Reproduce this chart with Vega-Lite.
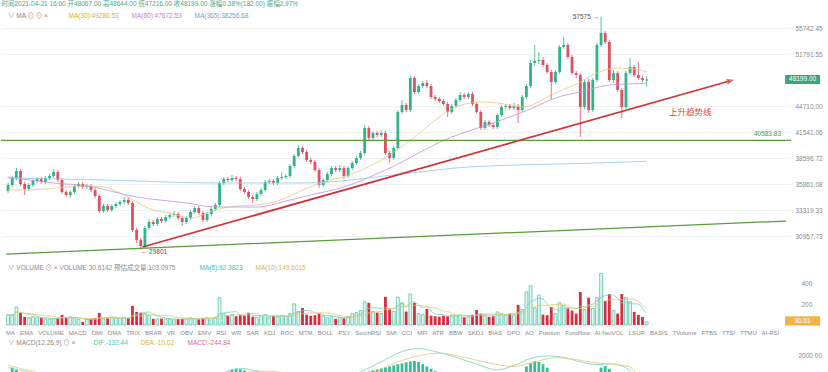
{
"$schema": "https://vega.github.io/schema/vega-lite/v6.json",
"padding": 0,
"background": "#ffffff",
"spacing": 3,
"config": {
  "view": {"stroke": null},
  "font": "Liberation Sans, Noto Sans CJK SC",
  "title": {"fontSize": 6.5, "fontWeight": "normal", "anchor": "start", "font": "Liberation Sans, Noto Sans CJK SC"},
  "axis": {"labelFontSize": 6.5, "labelColor": "#8a8a8a", "domain": false, "ticks": false, "gridColor": "#f1f1f1", "labelFont": "Liberation Sans"},
  "legend": {"orient": "none", "direction": "horizontal", "titleOrient": "left", "titleFontSize": 6.5, "titleColor": "#8a8a8a", "titleFontWeight": "normal", "titlePadding": 6, "labelFontSize": 6.5, "symbolSize": 0, "symbolOpacity": 0, "symbolStrokeWidth": 0, "labelOffset": 0, "columnPadding": 6, "padding": 0, "titleFont": "Liberation Sans, Noto Sans CJK SC", "labelFont": "Liberation Sans"}
},
"datasets": {
  "k": [
{"i":0,"o":35175,"h":35979,"l":34977,"c":35776,"v":100},
{"i":1,"o":35776,"h":36697,"l":35575,"c":36490,"v":95},
{"i":2,"o":36490,"h":37536,"l":36285,"c":37219,"v":175},
{"i":3,"o":37219,"h":37430,"l":35675,"c":35877,"v":117},
{"i":4,"o":35877,"h":36081,"l":34780,"c":35374,"v":78},
{"i":5,"o":35374,"h":35979,"l":35175,"c":35776,"v":70},
{"i":6,"o":35776,"h":36388,"l":35575,"c":36183,"v":80},
{"i":7,"o":36183,"h":36593,"l":35979,"c":36388,"v":70},
{"i":8,"o":36388,"h":36593,"l":35877,"c":36081,"v":68},
{"i":9,"o":36081,"h":36697,"l":35877,"c":36490,"v":60},
{"i":10,"o":36490,"h":36905,"l":36285,"c":36697,"v":58},
{"i":11,"o":36697,"h":37430,"l":36490,"c":37114,"v":62},
{"i":12,"o":37114,"h":37324,"l":36081,"c":36285,"v":65},
{"i":13,"o":36285,"h":36490,"l":34878,"c":35076,"v":98},
{"i":14,"o":35076,"h":35275,"l":34584,"c":34780,"v":70},
{"i":15,"o":34780,"h":35275,"l":34486,"c":35076,"v":78},
{"i":16,"o":35076,"h":35877,"l":34878,"c":35675,"v":65},
{"i":17,"o":35675,"h":36081,"l":35474,"c":35877,"v":55},
{"i":18,"o":35877,"h":36081,"l":35374,"c":35575,"v":30},
{"i":19,"o":35575,"h":35877,"l":35374,"c":35675,"v":55},
{"i":20,"o":35675,"h":35877,"l":35076,"c":35275,"v":60},
{"i":21,"o":35275,"h":35474,"l":34486,"c":34682,"v":68},
{"i":22,"o":34682,"h":34878,"l":33054,"c":33242,"v":117},
{"i":23,"o":33242,"h":33906,"l":33054,"c":33714,"v":60},
{"i":24,"o":33714,"h":33906,"l":33148,"c":33336,"v":65},
{"i":25,"o":33336,"h":33906,"l":33148,"c":33714,"v":70},
{"i":26,"o":33714,"h":34099,"l":33524,"c":33906,"v":68},
{"i":27,"o":33906,"h":34292,"l":33714,"c":34099,"v":65},
{"i":28,"o":34099,"h":34584,"l":33906,"c":34292,"v":70},
{"i":29,"o":34292,"h":34486,"l":33810,"c":34003,"v":65},
{"i":30,"o":34003,"h":34195,"l":31327,"c":31505,"v":185},
{"i":31,"o":31505,"h":31683,"l":30369,"c":30627,"v":127},
{"i":32,"o":30627,"h":30801,"l":29801,"c":30113,"v":120},
{"i":33,"o":30113,"h":31863,"l":29943,"c":31683,"v":110},
{"i":34,"o":31683,"h":32499,"l":31505,"c":32225,"v":95},
{"i":35,"o":32225,"h":32408,"l":31863,"c":32043,"v":60},
{"i":36,"o":32043,"h":32683,"l":31863,"c":32499,"v":58},
{"i":37,"o":32499,"h":32683,"l":32134,"c":32316,"v":62},
{"i":38,"o":32316,"h":32868,"l":32134,"c":32683,"v":55},
{"i":39,"o":32683,"h":33054,"l":32499,"c":32868,"v":60},
{"i":40,"o":32868,"h":33242,"l":32683,"c":32961,"v":50},
{"i":41,"o":32961,"h":33148,"l":32408,"c":32591,"v":58},
{"i":42,"o":32591,"h":32775,"l":31863,"c":32225,"v":60},
{"i":43,"o":32225,"h":32775,"l":32043,"c":32591,"v":65},
{"i":44,"o":32591,"h":33336,"l":32408,"c":33148,"v":70},
{"i":45,"o":33148,"h":33714,"l":32961,"c":33524,"v":62},
{"i":46,"o":33524,"h":33714,"l":32868,"c":33054,"v":55},
{"i":47,"o":33054,"h":33242,"l":32225,"c":32408,"v":68},
{"i":48,"o":32408,"h":33148,"l":32225,"c":32961,"v":70},
{"i":49,"o":32961,"h":33619,"l":32775,"c":33430,"v":65},
{"i":50,"o":33430,"h":34003,"l":33242,"c":33810,"v":75},
{"i":51,"o":33810,"h":36183,"l":33619,"c":35979,"v":265},
{"i":52,"o":35979,"h":36593,"l":35776,"c":36388,"v":110},
{"i":53,"o":36388,"h":36593,"l":36081,"c":36285,"v":90},
{"i":54,"o":36285,"h":36801,"l":36081,"c":36490,"v":100},
{"i":55,"o":36490,"h":36697,"l":36183,"c":36388,"v":85},
{"i":56,"o":36388,"h":36593,"l":35175,"c":35374,"v":95},
{"i":57,"o":35374,"h":35575,"l":34878,"c":35076,"v":90},
{"i":58,"o":35076,"h":35275,"l":34389,"c":34584,"v":118},
{"i":59,"o":34584,"h":34780,"l":34003,"c":34389,"v":80},
{"i":60,"o":34389,"h":35076,"l":34195,"c":34878,"v":75},
{"i":61,"o":34878,"h":35474,"l":34682,"c":35275,"v":90},
{"i":62,"o":35275,"h":36285,"l":35076,"c":36081,"v":100},
{"i":63,"o":36081,"h":36388,"l":35877,"c":36183,"v":70},
{"i":64,"o":36183,"h":36388,"l":35776,"c":35979,"v":90},
{"i":65,"o":35979,"h":36697,"l":35776,"c":36490,"v":80},
{"i":66,"o":36490,"h":37114,"l":36285,"c":36593,"v":95},
{"i":67,"o":36593,"h":36905,"l":36388,"c":36697,"v":85},
{"i":68,"o":36697,"h":37962,"l":36490,"c":37748,"v":110},
{"i":69,"o":37748,"h":39050,"l":37536,"c":38829,"v":205},
{"i":70,"o":38829,"h":40055,"l":38611,"c":39717,"v":130},
{"i":71,"o":39717,"h":39940,"l":39050,"c":39271,"v":165},
{"i":72,"o":39271,"h":39494,"l":38177,"c":38394,"v":100},
{"i":73,"o":38394,"h":38611,"l":37962,"c":38177,"v":90},
{"i":74,"o":38177,"h":38394,"l":37114,"c":37324,"v":95},
{"i":75,"o":37324,"h":37536,"l":35474,"c":35776,"v":110},
{"i":76,"o":35776,"h":36490,"l":35575,"c":36285,"v":90},
{"i":77,"o":36285,"h":37114,"l":36081,"c":36905,"v":70},
{"i":78,"o":36905,"h":37748,"l":36697,"c":37536,"v":80},
{"i":79,"o":37536,"h":37748,"l":37114,"c":37324,"v":60},
{"i":80,"o":37324,"h":37855,"l":37114,"c":37536,"v":70},
{"i":81,"o":37536,"h":37748,"l":36388,"c":36697,"v":65},
{"i":82,"o":36697,"h":37748,"l":36490,"c":37536,"v":80},
{"i":83,"o":37536,"h":38285,"l":37324,"c":38069,"v":110},
{"i":84,"o":38069,"h":38829,"l":37855,"c":38611,"v":120},
{"i":85,"o":38611,"h":39383,"l":38394,"c":39160,"v":140},
{"i":86,"o":39160,"h":42383,"l":38939,"c":42025,"v":225},
{"i":87,"o":42025,"h":42263,"l":40623,"c":40853,"v":215},
{"i":88,"o":40853,"h":41670,"l":40623,"c":41435,"v":130},
{"i":89,"o":41435,"h":41670,"l":40969,"c":41201,"v":120},
{"i":90,"o":41201,"h":41788,"l":40969,"c":41435,"v":110},
{"i":91,"o":41435,"h":41670,"l":38939,"c":39160,"v":273},
{"i":92,"o":39160,"h":39383,"l":38069,"c":38611,"v":150},
{"i":93,"o":38611,"h":39940,"l":38394,"c":39717,"v":130},
{"i":94,"o":39717,"h":44218,"l":39494,"c":43969,"v":270},
{"i":95,"o":43969,"h":45484,"l":43721,"c":44846,"v":215},
{"i":96,"o":44846,"h":45100,"l":43969,"c":44218,"v":130},
{"i":97,"o":44218,"h":48813,"l":43969,"c":48401,"v":300},
{"i":98,"o":48401,"h":48675,"l":46262,"c":46524,"v":215},
{"i":99,"o":46524,"h":47587,"l":46262,"c":47319,"v":110},
{"i":100,"o":47319,"h":47992,"l":47053,"c":47722,"v":100},
{"i":101,"o":47722,"h":48128,"l":47053,"c":47319,"v":155},
{"i":102,"o":47319,"h":47587,"l":45613,"c":45871,"v":90},
{"i":103,"o":45871,"h":46131,"l":45356,"c":45613,"v":85},
{"i":104,"o":45613,"h":45871,"l":45100,"c":45356,"v":80},
{"i":105,"o":45356,"h":45613,"l":44720,"c":44973,"v":90},
{"i":106,"o":44973,"h":45228,"l":43352,"c":43969,"v":85},
{"i":107,"o":43969,"h":44973,"l":43721,"c":44720,"v":95},
{"i":108,"o":44720,"h":45742,"l":44468,"c":45484,"v":90},
{"i":109,"o":45484,"h":46524,"l":45228,"c":46131,"v":95},
{"i":110,"o":46131,"h":46393,"l":45613,"c":45871,"v":75},
{"i":111,"o":45871,"h":46524,"l":45613,"c":46262,"v":85},
{"i":112,"o":46262,"h":46524,"l":44720,"c":44973,"v":100},
{"i":113,"o":44973,"h":45228,"l":43721,"c":43969,"v":145},
{"i":114,"o":43969,"h":44218,"l":41788,"c":42025,"v":110},
{"i":115,"o":42025,"h":42986,"l":41788,"c":42744,"v":90},
{"i":116,"o":42744,"h":42986,"l":42144,"c":42383,"v":80},
{"i":117,"o":42383,"h":42623,"l":41906,"c":42144,"v":85},
{"i":118,"o":42144,"h":43845,"l":41906,"c":43598,"v":127},
{"i":119,"o":43598,"h":44846,"l":43352,"c":44594,"v":110},
{"i":120,"o":44594,"h":44973,"l":44343,"c":44720,"v":95},
{"i":121,"o":44720,"h":44973,"l":44218,"c":44468,"v":110},
{"i":122,"o":44468,"h":45100,"l":44218,"c":44720,"v":100},
{"i":123,"o":44720,"h":44973,"l":42623,"c":44218,"v":195},
{"i":124,"o":44218,"h":46131,"l":43969,"c":45871,"v":150},
{"i":125,"o":45871,"h":47587,"l":45613,"c":47319,"v":320},
{"i":126,"o":47319,"h":50925,"l":47053,"c":50495,"v":380},
{"i":127,"o":50495,"h":53129,"l":50069,"c":50781,"v":165},
{"i":128,"o":50781,"h":52089,"l":50353,"c":50925,"v":290},
{"i":129,"o":50925,"h":51358,"l":49928,"c":50211,"v":100},
{"i":130,"o":50211,"h":50495,"l":48951,"c":49228,"v":95},
{"i":131,"o":49228,"h":49507,"l":45484,"c":47857,"v":175},
{"i":132,"o":47857,"h":49507,"l":47587,"c":49228,"v":110},
{"i":133,"o":49228,"h":53129,"l":48951,"c":52830,"v":215},
{"i":134,"o":52830,"h":54343,"l":52532,"c":53129,"v":190},
{"i":135,"o":53129,"h":53430,"l":51069,"c":51358,"v":160},
{"i":136,"o":51358,"h":51649,"l":48813,"c":49089,"v":140},
{"i":137,"o":49089,"h":49367,"l":48401,"c":48813,"v":110},
{"i":138,"o":48813,"h":49089,"l":40969,"c":44594,"v":320},
{"i":139,"o":44594,"h":48128,"l":44343,"c":47857,"v":150},
{"i":140,"o":47857,"h":48264,"l":43845,"c":44218,"v":265},
{"i":141,"o":44218,"h":48401,"l":43969,"c":48128,"v":160},
{"i":142,"o":48128,"h":53430,"l":47857,"c":53129,"v":265},
{"i":143,"o":53129,"h":57575,"l":52830,"c":54961,"v":500},
{"i":144,"o":54961,"h":55272,"l":53279,"c":53581,"v":235},
{"i":145,"o":53581,"h":53885,"l":47857,"c":48128,"v":300},
{"i":146,"o":48128,"h":49507,"l":47722,"c":49089,"v":140},
{"i":147,"o":49089,"h":49367,"l":46524,"c":46788,"v":110},
{"i":148,"o":46788,"h":47053,"l":43230,"c":44594,"v":300},
{"i":149,"o":44594,"h":49367,"l":44343,"c":49089,"v":265},
{"i":150,"o":49089,"h":51213,"l":48813,"c":49928,"v":225},
{"i":151,"o":49928,"h":50211,"l":48538,"c":48813,"v":127},
{"i":152,"o":48813,"h":50638,"l":48128,"c":48401,"v":98},
{"i":153,"o":48401,"h":48675,"l":47857,"c":48128,"v":78},
{"i":154,"o":48067,"h":48644,"l":47216,"c":48199,"v":30.6142}
  ],
  "ma": [
{"ma":"MA30","i":0,"p":35275},{"ma":"MA30","i":4,"p":35275},{"ma":"MA30","i":12,"p":35474},{"ma":"MA30","i":18,"p":35675},{"ma":"MA30","i":23,"p":35575},{"ma":"MA30","i":28,"p":34780},{"ma":"MA30","i":35,"p":33336},{"ma":"MA30","i":39,"p":33054},{"ma":"MA30","i":44,"p":32591},{"ma":"MA30","i":50,"p":33336},{"ma":"MA30","i":55,"p":33714},{"ma":"MA30","i":60,"p":33810},{"ma":"MA30","i":67,"p":34486},{"ma":"MA30","i":71,"p":35275},{"ma":"MA30","i":78,"p":36285},{"ma":"MA30","i":83,"p":36905},{"ma":"MA30","i":90,"p":38394},{"ma":"MA30","i":98,"p":40969},{"ma":"MA30","i":104,"p":43352},{"ma":"MA30","i":108,"p":44594},{"ma":"MA30","i":114,"p":45228},{"ma":"MA30","i":118,"p":45100},{"ma":"MA30","i":124,"p":44594},{"ma":"MA30","i":132,"p":46393},{"ma":"MA30","i":138,"p":47857},{"ma":"MA30","i":141,"p":48813},{"ma":"MA30","i":147,"p":49787},{"ma":"MA30","i":151,"p":49647},{"ma":"MA30","i":154,"p":49280.53},
{"ma":"MA60","i":0,"p":36593},{"ma":"MA60","i":11,"p":35979},{"ma":"MA60","i":19,"p":35675},{"ma":"MA60","i":31,"p":34584},{"ma":"MA60","i":43,"p":34003},{"ma":"MA60","i":50,"p":33619},{"ma":"MA60","i":60,"p":33619},{"ma":"MA60","i":68,"p":34292},{"ma":"MA60","i":74,"p":34878},{"ma":"MA60","i":81,"p":35575},{"ma":"MA60","i":91,"p":37324},{"ma":"MA60","i":107,"p":40969},{"ma":"MA60","i":117,"p":42623},{"ma":"MA60","i":126,"p":44343},{"ma":"MA60","i":132,"p":45742},{"ma":"MA60","i":139,"p":46656},{"ma":"MA60","i":145,"p":47453},{"ma":"MA60","i":154,"p":47672.53},
{"ma":"MA365","i":0,"p":36490},{"ma":"MA365","i":23,"p":36285},{"ma":"MA365","i":51,"p":35979},{"ma":"MA365","i":71,"p":35979},{"ma":"MA365","i":97,"p":37010},{"ma":"MA365","i":111,"p":37642},{"ma":"MA365","i":142,"p":38069},{"ma":"MA365","i":154,"p":38256.68}
  ],
  "tl": [
{"g":"green","i":-0.5,"p":29438},{"g":"green","i":187.6,"p":32313},
{"g":"red","i":32.4,"p":30029},{"g":"red","i":174,"p":47992},
{"g":"level","p":40583.83}
  ],
  "ann": [
{"k":"hi","t":"57575 →","i":143,"p":57575},
{"k":"lo","t":"← 29801","i":32,"p":29801},
{"k":"trend","t":"上升趋势线","i":164.5,"p":43970},
{"k":"level","t":"40583.83","i":186.4,"p":40583.83},
{"k":"cur","t":"48199.00","p":48199}
  ],
  "vcur": [{"t":"30.61","v":40}],
  "hist": [
{"i":1,"h":1450},{"i":2,"h":1350},
{"i":53,"h":1280},{"i":54,"h":1350},{"i":55,"h":1390},{"i":56,"h":1380},{"i":57,"h":1330},{"i":58,"h":1260},
{"i":86,"h":1250},{"i":87,"h":1290},{"i":88,"h":1330},{"i":89,"h":1380},{"i":90,"h":1420},{"i":91,"h":1460},{"i":92,"h":1500},{"i":93,"h":1550},{"i":94,"h":1600},{"i":95,"h":1640},{"i":96,"h":1680},{"i":97,"h":1720},{"i":98,"h":1740},{"i":99,"h":1700},{"i":100,"h":1600},{"i":101,"h":1500},{"i":102,"h":1400},{"i":103,"h":1300},
{"i":125,"h":1500},{"i":126,"h":1650},{"i":127,"h":1740},{"i":128,"h":1700},{"i":129,"h":1600},{"i":130,"h":1450},
{"i":143,"h":1450},{"i":144,"h":1520},{"i":145,"h":1400},
{"i":154,"h":-244.84}
  ],
  "macd": [
{"k":"dif","i":0,"v":1450},{"k":"dif","i":5,"v":1250},{"k":"dif","i":12,"v":900},{"k":"dif","i":25,"v":500},{"k":"dif","i":40,"v":600},{"k":"dif","i":50,"v":1000},{"k":"dif","i":53,"v":1300},{"k":"dif","i":56,"v":1420},{"k":"dif","i":59,"v":1350},{"k":"dif","i":64,"v":1150},{"k":"dif","i":72,"v":1050},{"k":"dif","i":80,"v":1000},{"k":"dif","i":86,"v":1350},{"k":"dif","i":91,"v":1800},{"k":"dif","i":95,"v":2150},{"k":"dif","i":99,"v":2280},{"k":"dif","i":103,"v":2150},{"k":"dif","i":108,"v":1900},{"k":"dif","i":113,"v":1600},{"k":"dif","i":118,"v":1350},{"k":"dif","i":122,"v":1550},{"k":"dif","i":126,"v":1850},{"k":"dif","i":130,"v":1960},{"k":"dif","i":134,"v":1900},{"k":"dif","i":138,"v":1700},{"k":"dif","i":142,"v":1580},{"k":"dif","i":145,"v":1620},{"k":"dif","i":149,"v":1450},{"k":"dif","i":154,"v":-132.44},
{"k":"dea","i":0,"v":1550},{"k":"dea","i":8,"v":1200},{"k":"dea","i":20,"v":800},{"k":"dea","i":40,"v":550},{"k":"dea","i":52,"v":950},{"k":"dea","i":57,"v":1250},{"k":"dea","i":62,"v":1300},{"k":"dea","i":70,"v":1150},{"k":"dea","i":82,"v":1050},{"k":"dea","i":88,"v":1250},{"k":"dea","i":94,"v":1700},{"k":"dea","i":100,"v":2000},{"k":"dea","i":104,"v":2080},{"k":"dea","i":110,"v":1900},{"k":"dea","i":116,"v":1650},{"k":"dea","i":122,"v":1500},{"k":"dea","i":127,"v":1700},{"k":"dea","i":132,"v":1880},{"k":"dea","i":137,"v":1800},{"k":"dea","i":142,"v":1650},{"k":"dea","i":146,"v":1600},{"k":"dea","i":150,"v":1480},{"k":"dea","i":154,"v":-10.02}
  ]
},
"resolve": {"scale": {"x": "independent", "y": "independent", "color": "independent"}, "legend": {"color": "independent"}},
"vconcat": [
 {
  "width": 790, "height": 247,
  "title": {"text": "时间2021-04-21 16:00  开48067.00  高48644.00  低47216.00  收48199.00  涨幅0.38%(182.00)  振幅2.97%", "color": "#4aa886", "offset": 4, "dx": 1},
  "layer": [
   {"data": {"name": "k"}, "mark": {"type": "rule", "strokeWidth": 0.8},
    "encoding": {
     "x": {"field": "i", "type": "quantitative", "scale": {"domain": [-0.5, 187.6], "nice": false, "zero": false}, "axis": null},
     "y": {"field": "l", "type": "quantitative", "scale": {"type": "log", "domain": [29110, 58485], "nice": false, "zero": false}, "axis": {"orient": "right", "values": [30957.73, 33319.33, 35861.08, 38596.72, 41541.06, 44710.0, 51791.55, 55742.45], "format": ".2f", "grid": true, "labelPadding": 4, "title": null}},
     "y2": {"field": "h"},
     "color": {"condition": {"test": "datum.c >= datum.o", "value": "#2fb489"}, "value": "#e0505f"}
    }},
   {"data": {"name": "k"}, "mark": {"type": "bar", "width": 2.8},
    "encoding": {
     "x": {"field": "i", "type": "quantitative", "scale": {"domain": [-0.5, 187.6], "nice": false, "zero": false}, "axis": null},
     "y": {"field": "o", "type": "quantitative", "scale": {"type": "log", "domain": [29110, 58485], "nice": false, "zero": false}, "axis": {"orient": "right", "values": [30957.73, 33319.33, 35861.08, 38596.72, 41541.06, 44710.0, 51791.55, 55742.45], "format": ".2f", "grid": true, "labelPadding": 4, "title": null}},
     "y2": {"field": "c"},
     "color": {"condition": {"test": "datum.c >= datum.o", "value": "#2fb489"}, "value": "#e0505f"}
    }},
   {"data": {"name": "ma"}, "mark": {"type": "line", "strokeWidth": 0.8, "interpolate": "monotone"},
    "encoding": {
     "x": {"field": "i", "type": "quantitative", "scale": {"domain": [-0.5, 187.6], "nice": false, "zero": false}, "axis": null},
     "y": {"field": "p", "type": "quantitative", "scale": {"type": "log", "domain": [29110, 58485], "nice": false, "zero": false}, "axis": {"orient": "right", "values": [30957.73, 33319.33, 35861.08, 38596.72, 41541.06, 44710.0, 51791.55, 55742.45], "format": ".2f", "grid": true, "labelPadding": 4, "title": null}},
     "color": {"field": "ma", "type": "nominal", "scale": {"domain": ["MA30", "MA60", "MA365"], "range": ["#e8c582", "#c58fd8", "#90c6ea"]},
      "legend": {"legendX": 7, "legendY": 2, "title": "∨  MA  ⊙  ⊙  ×", "labelExpr": "datum.value == 'MA30' ? 'MA(30):49280.53' : datum.value == 'MA60' ? 'MA(60):47672.53' : 'MA(365):38256.68'",
       "encode": {"labels": {"update": {"fill": {"signal": "datum.value == 'MA30' ? '#e0a93a' : datum.value == 'MA60' ? '#cc79cf' : '#5fa8d8'"}}}}}}
    }},
   {"data": {"name": "tl"}, "transform": [{"filter": "datum.g == 'green'"}], "mark": {"type": "line", "strokeWidth": 1.2, "color": "#5a9b3c"},
    "encoding": {
     "x": {"field": "i", "type": "quantitative", "scale": {"domain": [-0.5, 187.6], "nice": false, "zero": false}, "axis": null},
     "y": {"field": "p", "type": "quantitative", "scale": {"type": "log", "domain": [29110, 58485], "nice": false, "zero": false}, "axis": {"orient": "right", "values": [30957.73, 33319.33, 35861.08, 38596.72, 41541.06, 44710.0, 51791.55, 55742.45], "format": ".2f", "grid": true, "labelPadding": 4, "title": null}}
    }},
   {"data": {"name": "tl"}, "transform": [{"filter": "datum.g == 'level'"}], "mark": {"type": "rule", "strokeWidth": 1.2, "color": "#5a9b3c"},
    "encoding": {
     "y": {"field": "p", "type": "quantitative", "scale": {"type": "log", "domain": [29110, 58485], "nice": false, "zero": false}, "axis": {"orient": "right", "values": [30957.73, 33319.33, 35861.08, 38596.72, 41541.06, 44710.0, 51791.55, 55742.45], "format": ".2f", "grid": true, "labelPadding": 4, "title": null}}
    }},
   {"data": {"name": "tl"}, "transform": [{"filter": "datum.g == 'red'"}], "mark": {"type": "line", "strokeWidth": 1.8, "color": "#cf3138"},
    "encoding": {
     "x": {"field": "i", "type": "quantitative", "scale": {"domain": [-0.5, 187.6], "nice": false, "zero": false}, "axis": null},
     "y": {"field": "p", "type": "quantitative", "scale": {"type": "log", "domain": [29110, 58485], "nice": false, "zero": false}, "axis": {"orient": "right", "values": [30957.73, 33319.33, 35861.08, 38596.72, 41541.06, 44710.0, 51791.55, 55742.45], "format": ".2f", "grid": true, "labelPadding": 4, "title": null}}
    }},
   {"data": {"name": "tl"}, "transform": [{"filter": "datum.g == 'red' && datum.i > 100"}], "mark": {"type": "point", "shape": "M-1,-0.8L1,0L-1,0.8", "filled": false, "strokeWidth": 1.5, "size": 30, "angle": 344.4, "color": "#cf3138"},
    "encoding": {
     "x": {"field": "i", "type": "quantitative", "scale": {"domain": [-0.5, 187.6], "nice": false, "zero": false}, "axis": null},
     "y": {"field": "p", "type": "quantitative", "scale": {"type": "log", "domain": [29110, 58485], "nice": false, "zero": false}, "axis": {"orient": "right", "values": [30957.73, 33319.33, 35861.08, 38596.72, 41541.06, 44710.0, 51791.55, 55742.45], "format": ".2f", "grid": true, "labelPadding": 4, "title": null}}
    }},
   {"data": {"name": "ann"}, "transform": [{"filter": "datum.k == 'hi'"}], "mark": {"type": "text", "align": "right", "baseline": "middle", "dx": -2, "fontSize": 6.5, "color": "#555555"},
    "encoding": {
     "x": {"field": "i", "type": "quantitative", "scale": {"domain": [-0.5, 187.6], "nice": false, "zero": false}, "axis": null},
     "y": {"field": "p", "type": "quantitative", "scale": {"type": "log", "domain": [29110, 58485], "nice": false, "zero": false}, "axis": {"orient": "right", "values": [30957.73, 33319.33, 35861.08, 38596.72, 41541.06, 44710.0, 51791.55, 55742.45], "format": ".2f", "grid": true, "labelPadding": 4, "title": null}},
     "text": {"field": "t"}
    }},
   {"data": {"name": "ann"}, "transform": [{"filter": "datum.k == 'lo'"}], "mark": {"type": "text", "align": "left", "baseline": "middle", "dx": 0, "dy": 2, "fontSize": 6.5, "color": "#555555"},
    "encoding": {
     "x": {"field": "i", "type": "quantitative", "scale": {"domain": [-0.5, 187.6], "nice": false, "zero": false}, "axis": null},
     "y": {"field": "p", "type": "quantitative", "scale": {"type": "log", "domain": [29110, 58485], "nice": false, "zero": false}, "axis": {"orient": "right", "values": [30957.73, 33319.33, 35861.08, 38596.72, 41541.06, 44710.0, 51791.55, 55742.45], "format": ".2f", "grid": true, "labelPadding": 4, "title": null}},
     "text": {"field": "t"}
    }},
   {"data": {"name": "ann"}, "transform": [{"filter": "datum.k == 'trend'"}], "mark": {"type": "text", "align": "center", "baseline": "middle", "fontSize": 8.5, "font": "Noto Sans CJK SC", "color": "#e0453f"},
    "encoding": {
     "x": {"field": "i", "type": "quantitative", "scale": {"domain": [-0.5, 187.6], "nice": false, "zero": false}, "axis": null},
     "y": {"field": "p", "type": "quantitative", "scale": {"type": "log", "domain": [29110, 58485], "nice": false, "zero": false}, "axis": {"orient": "right", "values": [30957.73, 33319.33, 35861.08, 38596.72, 41541.06, 44710.0, 51791.55, 55742.45], "format": ".2f", "grid": true, "labelPadding": 4, "title": null}},
     "text": {"field": "t"}
    }},
   {"data": {"name": "ann"}, "transform": [{"filter": "datum.k == 'level'"}], "mark": {"type": "text", "align": "right", "baseline": "bottom", "dy": -3, "fontSize": 6.5, "color": "#4f9a3a"},
    "encoding": {
     "x": {"field": "i", "type": "quantitative", "scale": {"domain": [-0.5, 187.6], "nice": false, "zero": false}, "axis": null},
     "y": {"field": "p", "type": "quantitative", "scale": {"type": "log", "domain": [29110, 58485], "nice": false, "zero": false}, "axis": {"orient": "right", "values": [30957.73, 33319.33, 35861.08, 38596.72, 41541.06, 44710.0, 51791.55, 55742.45], "format": ".2f", "grid": true, "labelPadding": 4, "title": null}},
     "text": {"field": "t"}
    }},
   {"data": {"name": "ann"}, "transform": [{"filter": "datum.k == 'cur'"}], "mark": {"type": "point", "shape": "M-1,-0.26H1V0.26H-1Z", "filled": true, "size": 1225, "color": "#3aa67e", "opacity": 1},
    "encoding": {
     "x": {"datum": 191.6, "type": "quantitative", "scale": {"domain": [-0.5, 187.6], "nice": false, "zero": false}, "axis": null},
     "y": {"field": "p", "type": "quantitative", "scale": {"type": "log", "domain": [29110, 58485], "nice": false, "zero": false}, "axis": {"orient": "right", "values": [30957.73, 33319.33, 35861.08, 38596.72, 41541.06, 44710.0, 51791.55, 55742.45], "format": ".2f", "grid": true, "labelPadding": 4, "title": null}}
    }},
   {"data": {"name": "ann"}, "transform": [{"filter": "datum.k == 'cur'"}], "mark": {"type": "text", "align": "center", "baseline": "middle", "fontSize": 6.5, "color": "#ffffff"},
    "encoding": {
     "x": {"datum": 191.6, "type": "quantitative", "scale": {"domain": [-0.5, 187.6], "nice": false, "zero": false}, "axis": null},
     "y": {"field": "p", "type": "quantitative", "scale": {"type": "log", "domain": [29110, 58485], "nice": false, "zero": false}, "axis": {"orient": "right", "values": [30957.73, 33319.33, 35861.08, 38596.72, 41541.06, 44710.0, 51791.55, 55742.45], "format": ".2f", "grid": true, "labelPadding": 4, "title": null}},
     "text": {"field": "t"}
    }}
  ]
 },
 {
  "width": 790, "height": 64,
  "layer": [
   {"data": {"name": "k"}, "transform": [{"filter": "datum.c >= datum.o"}], "mark": {"type": "bar", "width": 2.8, "fill": "#e4f6f0", "stroke": "#55c7ad", "strokeWidth": 0.8},
    "encoding": {
     "x": {"field": "i", "type": "quantitative", "scale": {"domain": [-0.5, 187.6], "nice": false, "zero": false}, "axis": null},
     "y": {"field": "v", "type": "quantitative", "scale": {"domain": [0, 620], "nice": false}, "axis": {"orient": "right", "values": [200, 400], "format": "d", "grid": false, "labelPadding": 10, "title": null}}
    }},
   {"data": {"name": "k"}, "transform": [{"filter": "datum.c < datum.o"}], "mark": {"type": "bar", "width": 2.8, "fill": "#d62e3e"},
    "encoding": {
     "x": {"field": "i", "type": "quantitative", "scale": {"domain": [-0.5, 187.6], "nice": false, "zero": false}, "axis": null},
     "y": {"field": "v", "type": "quantitative", "scale": {"domain": [0, 620], "nice": false}, "axis": {"orient": "right", "values": [200, 400], "format": "d", "grid": false, "labelPadding": 10, "title": null}}
    }},
   {"data": {"name": "k"},
    "transform": [
     {"window": [{"op": "mean", "field": "v", "as": "ma5"}], "frame": [-4, 0], "sort": [{"field": "i"}]},
     {"window": [{"op": "mean", "field": "v", "as": "ma10"}], "frame": [-9, 0], "sort": [{"field": "i"}]},
     {"fold": ["ma5", "ma10"], "as": ["key", "val"]}
    ],
    "mark": {"type": "line", "strokeWidth": 0.8, "interpolate": "monotone"},
    "encoding": {
     "x": {"field": "i", "type": "quantitative", "scale": {"domain": [-0.5, 187.6], "nice": false, "zero": false}, "axis": null},
     "y": {"field": "val", "type": "quantitative", "scale": {"domain": [0, 620], "nice": false}, "axis": {"orient": "right", "values": [200, 400], "format": "d", "grid": false, "labelPadding": 10, "title": null}},
     "color": {"field": "key", "type": "nominal", "scale": {"domain": ["ma5", "ma10"], "range": ["#6fd3bd", "#ecc66a"]},
      "legend": {"legendX": 7, "legendY": 4, "title": "∨  VOLUME  ⊙  ×   VOLUME:30.6142  预估成交量:103.0975", "labelExpr": "datum.value == 'ma5' ? 'MA(5):92.3823' : 'MA(10):149.6015'",
       "encode": {"labels": {"update": {"fill": {"signal": "datum.value == 'ma5' ? '#3fbfa5' : '#e4b33d'"}}}}}}
    }},
   {"data": {"name": "vcur"}, "mark": {"type": "point", "shape": "M-1,-0.26H1V0.26H-1Z", "filled": true, "size": 1225, "color": "#f0b445", "opacity": 1},
    "encoding": {
     "x": {"datum": 191.6, "type": "quantitative", "scale": {"domain": [-0.5, 187.6], "nice": false, "zero": false}, "axis": null},
     "y": {"field": "v", "type": "quantitative", "scale": {"domain": [0, 620], "nice": false}, "axis": {"orient": "right", "values": [200, 400], "format": "d", "grid": false, "labelPadding": 10, "title": null}}
    }},
   {"data": {"name": "vcur"}, "mark": {"type": "text", "align": "center", "baseline": "middle", "fontSize": 6.5, "color": "#ffffff"},
    "encoding": {
     "x": {"datum": 191.6, "type": "quantitative", "scale": {"domain": [-0.5, 187.6], "nice": false, "zero": false}, "axis": null},
     "y": {"field": "v", "type": "quantitative", "scale": {"domain": [0, 620], "nice": false}, "axis": {"orient": "right", "values": [200, 400], "format": "d", "grid": false, "labelPadding": 10, "title": null}},
     "text": {"field": "t"}
    }}
  ]
 },
 {
  "width": 790, "height": 34,
  "title": {"text": "MA\u00a0\u00a0 EMA\u00a0\u00a0 VOLUME\u00a0\u00a0 MACD\u00a0\u00a0 DMI\u00a0\u00a0 DMA\u00a0\u00a0 TRIX\u00a0\u00a0 BRAR\u00a0\u00a0 VR\u00a0\u00a0 OBV\u00a0\u00a0 EMV\u00a0\u00a0 RSI\u00a0\u00a0 WR\u00a0\u00a0 SAR\u00a0\u00a0 KDJ\u00a0\u00a0 ROC\u00a0\u00a0 MTM\u00a0\u00a0 BOLL\u00a0\u00a0 PSY\u00a0\u00a0 StochRSI\u00a0\u00a0 SMI\u00a0\u00a0 CCI\u00a0\u00a0 MFI\u00a0\u00a0 ATR\u00a0\u00a0 BBW\u00a0\u00a0 SKDJ\u00a0\u00a0 BIAS\u00a0\u00a0 DPO\u00a0\u00a0 AO\u00a0\u00a0 Position\u00a0\u00a0 Fundflow\u00a0\u00a0 AI-NetVOL\u00a0\u00a0 LSUR\u00a0\u00a0 BASIS\u00a0\u00a0 TVolume\u00a0\u00a0 FTBS\u00a0\u00a0 TTSI\u00a0\u00a0 TTMU\u00a0\u00a0 AI-RSI", "color": "#8a8a8a", "fontSize": 6.05, "offset": 3, "dx": 5},
  "layer": [
   {"data": {"name": "hist"}, "mark": {"type": "bar", "width": 2.8, "clip": true},
    "encoding": {
     "x": {"field": "i", "type": "quantitative", "scale": {"domain": [-0.5, 187.6], "nice": false, "zero": false}, "axis": null},
     "y": {"field": "h", "type": "quantitative", "scale": {"domain": [1217, 2696], "nice": false, "zero": false}, "axis": {"orient": "right", "values": [2000], "format": ".2f", "grid": false, "labelPadding": 7, "title": null}},
     "color": {"condition": {"test": "datum.h >= 0", "value": "#34bf94"}, "value": "#e0505f"}
    }},
   {"data": {"name": "macd"}, "mark": {"type": "line", "strokeWidth": 0.8, "clip": true, "interpolate": "monotone"},
    "encoding": {
     "x": {"field": "i", "type": "quantitative", "scale": {"domain": [-0.5, 187.6], "nice": false, "zero": false}, "axis": null},
     "y": {"field": "v", "type": "quantitative", "scale": {"domain": [1217, 2696], "nice": false, "zero": false}, "axis": {"orient": "right", "values": [2000], "format": ".2f", "grid": false, "labelPadding": 7, "title": null}},
     "color": {"field": "k", "type": "nominal", "scale": {"domain": ["dif", "dea", "macd"], "range": ["#6fd3bd", "#e8c57a", "#d76a9e"]},
      "legend": {"legendX": 7, "legendY": 1, "title": "∨  MACD(12,26,9)  ⊙  ×", "labelExpr": "datum.value == 'dif' ? 'DIF:-132.44' : datum.value == 'dea' ? 'DEA:-10.02' : 'MACD:-244.84'",
       "encode": {"labels": {"update": {"fill": {"signal": "datum.value == 'dif' ? '#48c0b0' : datum.value == 'dea' ? '#e0b040' : '#d76a9e'"}}}}}}
    }}
  ]
 }
]
}
